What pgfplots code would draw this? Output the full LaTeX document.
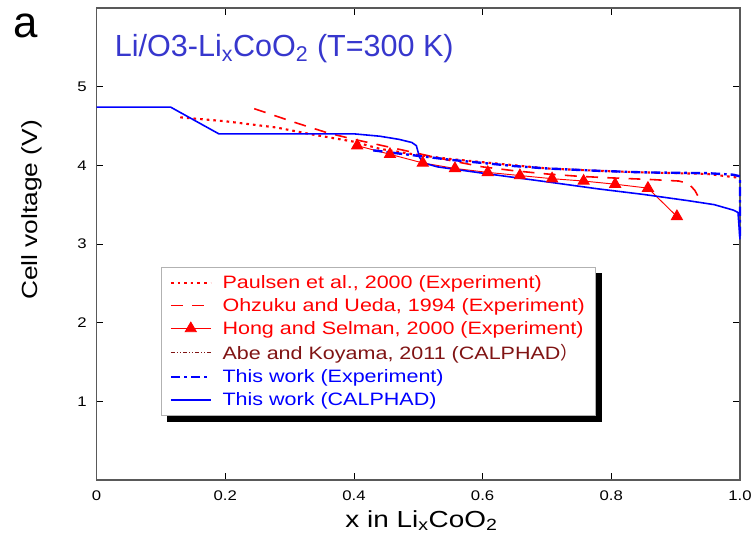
\documentclass[border=0pt]{standalone}
\usepackage{fontspec}
\setmainfont[FakeStretch=1.2]{Liberation Sans}
\newfontfamily\plainfont{Liberation Sans}
\newfontfamily\cjk{Noto Sans CJK SC}
\usepackage{pgfplots}
\pgfplotsset{compat=1.18}
\usetikzlibrary{calc}

\definecolor{lblue}{RGB}{0,0,255}
\definecolor{lred}{RGB}{255,0,0}
\definecolor{dred}{RGB}{128,20,20}
\definecolor{tblue}{RGB}{55,55,205}

% curves
\pgfplotstableread{
x     y
0.130 4.61
0.200 4.56
0.280 4.48
0.330 4.40
0.400 4.30
0.440 4.21
0.500 4.13
0.550 4.08
0.600 4.04
0.650 4.00
0.700 3.96
0.780 3.93
0.850 3.91
0.950 3.89
1.000 3.84
}\paulsen

\pgfplotstableread{
x     y
0.245 4.72
0.310 4.54
0.360 4.41
0.400 4.33
0.450 4.24
0.500 4.15
0.550 4.06
0.600 3.98
0.650 3.93
0.700 3.89
0.750 3.86
0.800 3.84
0.860 3.82
0.905 3.80
0.920 3.77
0.930 3.68
0.940 3.53
}\ohzuku

\pgfplotstableread{
x     y
0.405 4.25
0.456 4.14
0.507 4.03
0.557 3.96
0.608 3.91
0.658 3.87
0.708 3.83
0.757 3.80
0.806 3.76
0.857 3.71
0.902 3.35
}\hong

\pgfplotstableread{
x     y
0.430 4.19
0.460 4.16
0.500 4.12
0.550 4.07
0.600 4.03
0.650 3.99
0.700 3.96
0.780 3.93
0.850 3.91
0.950 3.90
0.990 3.88
1.000 3.86
1.000 3.06
}\expt

\pgfplotstableread{
x     y
0.000 4.74
0.115 4.74
0.190 4.40
0.400 4.40
0.440 4.37
0.470 4.33
0.490 4.29
0.497 4.25
0.502 4.10
0.508 4.03
0.530 3.98
0.600 3.90
0.700 3.79
0.780 3.70
0.850 3.63
0.920 3.55
0.960 3.50
0.990 3.43
0.997 3.40
1.000 3.06
}\calphad

\begin{document}
\begin{tikzpicture}
\begin{axis}[
  scale only axis,
  width=484.5pt, height=355.5pt,
  xmin=0, xmax=1, ymin=0, ymax=6,
  clip=false,
  xtick={0,0.2,0.4,0.6,0.8,1.0},
  xticklabels={0,0.2,0.4,0.6,0.8,1.0},
  ytick={1,2,3,4,5},
  tick align=inside,
  major tick length=5pt,
  axis line style={black!65, line width=0.9pt},
  tick style={black, line width=0.6pt},
  /pgf/number format/assume math mode=true,
  tick label style={font=\fontsize{10.5}{12}\selectfont},
  xticklabel style={yshift=-4.5pt},
  yticklabel style={xshift=-4pt},
  xlabel={x in Li\textsubscript{x}CoO\textsubscript{2}},
  xlabel style={font=\fontsize{17.5}{20}\selectfont, at={(rel axis cs:0.505,-0.0996)}, anchor=base},
  ylabel={Cell voltage (V)},
  ylabel style={font=\fontsize{16.5}{19}\selectfont, at={(rel axis cs:-0.0774,0.572)}, anchor=south},
  legend style={name=leg, at={(axis cs:0.1006,2.71)}, anchor=north west,
    draw=black!30, line width=0.6pt, fill=white,
    font=\fontsize{13.5}{16}\selectfont, row sep=2pt,
    inner xsep=6pt, inner ysep=4pt,
    /tikz/every odd column/.append style={column sep=6pt}},
  legend cell align=left,
  legend image code/.code={\draw[mark repeat=2,mark phase=2,#1] plot coordinates {(0pt,0pt) (15pt,0pt) (30pt,0pt)};},
]
\addplot[lred, line width=1.6pt, dash pattern=on 2pt off 3pt] table[x=x,y=y] {\paulsen};
\addlegendentry{\textcolor{lred}{Paulsen et al., 2000 (Experiment)}}
\addplot[lred, line width=1.2pt, dash pattern=on 9pt off 7pt] table[x=x,y=y] {\ohzuku};
\addlegendentry{\textcolor{lred}{Ohzuku and Ueda, 1994 (Experiment)}}
\addplot[lred, line width=0.7pt, mark=triangle*, mark size=4.8pt, mark options={solid, fill=lred}] table[x=x,y=y] {\hong};
\addlegendentry{\textcolor{lred}{Hong and Selman, 2000 (Experiment)}}
\addlegendimage{dred, line width=0.7pt, dash pattern=on 3pt off 1.5pt on 0.8pt off 1.5pt on 0.8pt off 1.5pt}
\addlegendentry{\textcolor{dred}{Abe and Koyama, 2011 (CALPHAD{\cjk ）}}}
\addplot[lblue, line width=1.8pt, dash pattern=on 7pt off 3pt on 2pt off 3pt] table[x=x,y=y] {\expt};
\addlegendentry{\textcolor{lblue}{This work (Experiment)}}
\addplot[lblue, line width=1.2pt] table[x=x,y=y] {\calphad};
\addlegendentry{\textcolor{lblue}{This work (CALPHAD)}}

\node[anchor=base west, font=\plainfont\fontsize{23}{27}\selectfont, text=tblue, inner sep=0pt]
  at (axis cs:0.028,5.38) {Li/O3-Li\textsubscript{x}CoO\textsubscript{2} (T=300 K)};
\node[anchor=base west, font=\plainfont\fontsize{33}{36}\selectfont, inner sep=0pt]
  at (axis cs:-0.13,5.62) {a};
\end{axis}
% black shadow under the legend box
\fill[black] ($(leg.south west)+(4.5pt,-4.5pt)$) rectangle ($(leg.south east)+(4.5pt,-0.3pt)$);
\fill[black] ($(leg.north east)+(0.3pt,-4.5pt)$) rectangle ($(leg.south east)+(4.5pt,0pt)$);
\path[use as bounding box] ($(current axis.south west)+(-72.75pt,-45pt)$)
  rectangle ($(current axis.south west)+(494.25pt,361.5pt)$);
\end{tikzpicture}
\end{document}
